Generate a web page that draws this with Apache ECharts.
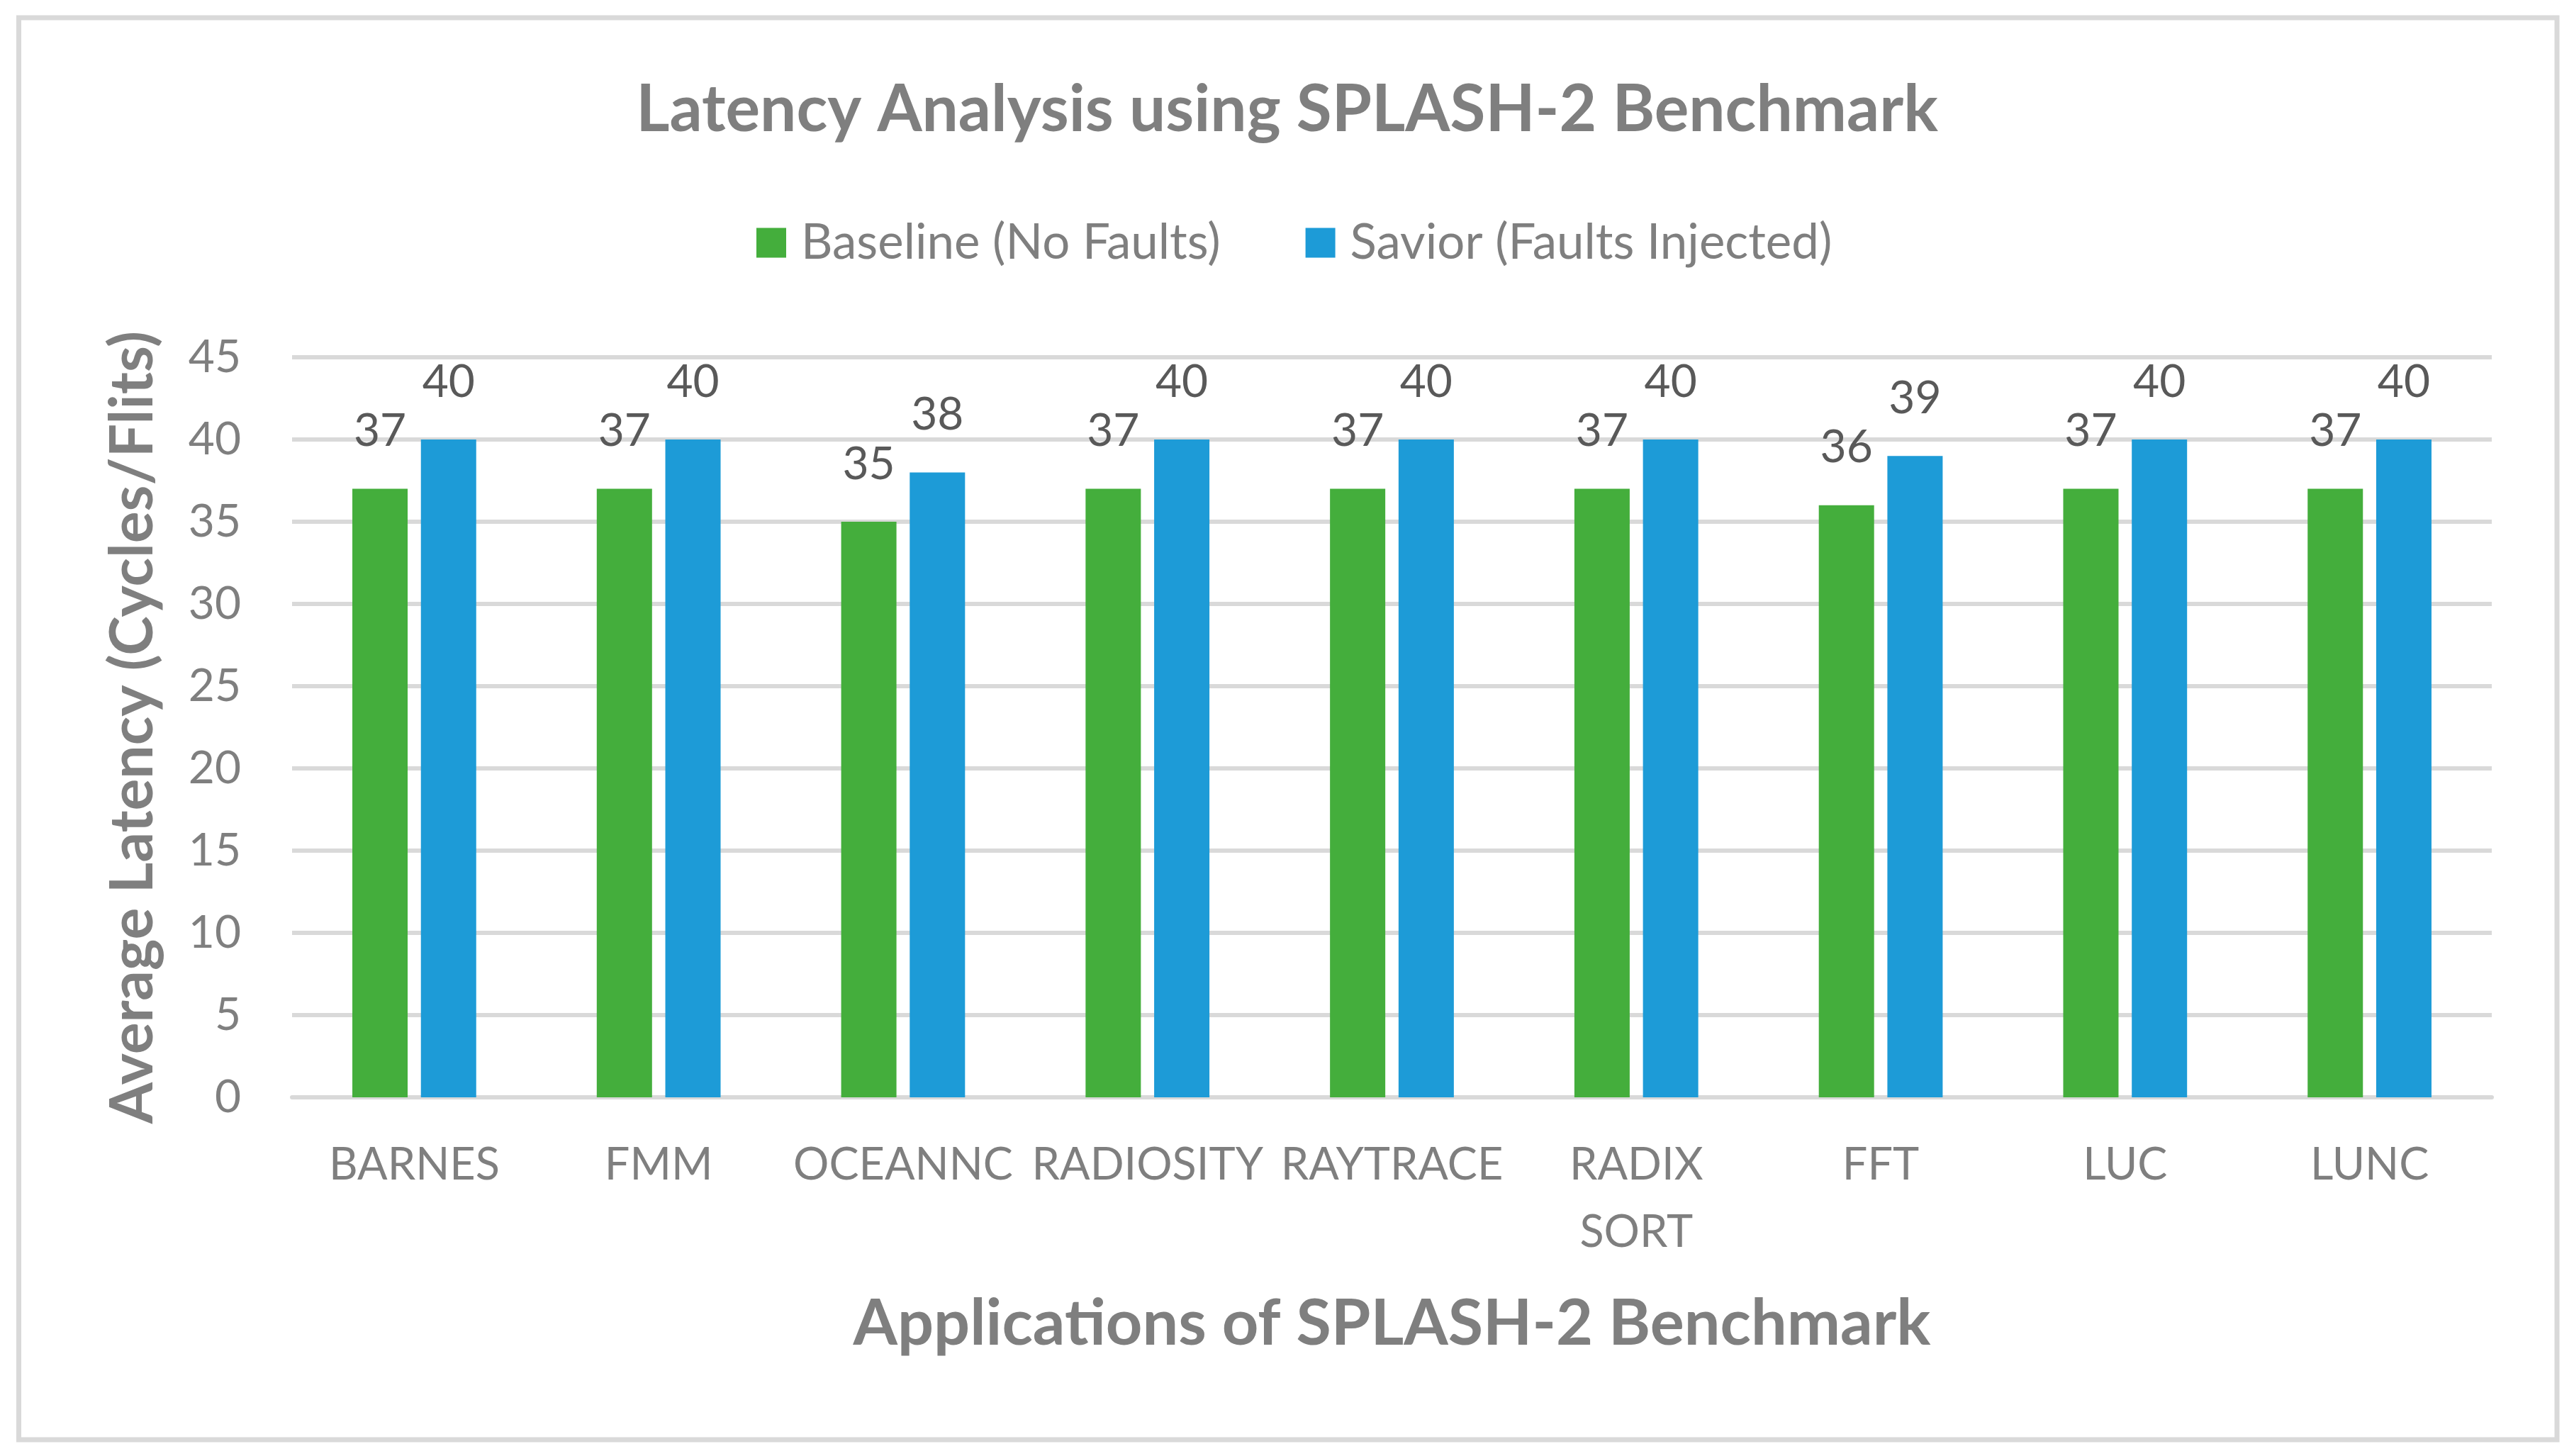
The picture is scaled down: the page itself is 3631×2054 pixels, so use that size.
<!DOCTYPE html>
<html>
<head>
<meta charset="utf-8">
<script src="https://cdn.jsdelivr.net/npm/echarts@6/dist/echarts.min.js"></script>
<style>
html,body{margin:0;padding:0;background:#fff;}
#chart{width:3631px;height:2054px;}
</style>
</head>
<body>
<div id="chart"></div>
<script>
const categories = ['BARNES','FMM','OCEANNC','RADIOSITY','RAYTRACE','RADIX\nSORT','FFT','LUC','LUNC'];
const baseline = [37,37,35,37,37,37,36,37,37];
const savior = [40,40,38,40,40,40,39,40,40];
const seriesNames = ['Baseline (No Faults)','Savior (Faults Injected)'];
const yTicks = {min:0, max:45, interval:5};

const FONT = 'Lato';
const GRAY = '#7f7f7f';

const chart = echarts.init(document.getElementById('chart'), null, {renderer:'canvas'});
chart.setOption({
  backgroundColor:'#ffffff',
  animation:false,
  graphic:[{
    type:'rect', silent:true, z:-10,
    shape:{x:26.5, y:25, width:3580.5, height:2006},
    style:{fill:'none', stroke:'#d9d9d9', lineWidth:7}
  }],
  title:{
    text:'Latency Analysis using SPLASH-2 Benchmark',
    left:'center', top:105,
    textStyle:{fontFamily:FONT, fontWeight:'bold', fontSize:91, lineHeight:91, color:GRAY}
  },
  legend:{
    left:1062, top:303,
    itemWidth:42, itemHeight:42, itemGap:120,
    icon:'rect',
    textStyle:{fontFamily:FONT, fontSize:69, lineHeight:68, color:GRAY, padding:[0,0,0,16]},
    data:seriesNames
  },
  grid:{left:412, right:116, top:504, bottom:506, containLabel:false},
  xAxis:{
    type:'category',
    data:categories,
    name:'Applications of SPLASH-2 Benchmark',
    nameLocation:'middle',
    nameGap:275,
    nameTextStyle:{fontFamily:FONT, fontWeight:'bold', fontSize:90, lineHeight:90, color:GRAY},
    axisLine:{show:true, lineStyle:{color:'#d9d9d9', width:6}},
    axisTick:{show:false},
    axisLabel:{fontFamily:FONT, fontSize:63, lineHeight:95, color:GRAY, margin:48, interval:0}
  },
  yAxis:{
    type:'value',
    min:yTicks.min, max:yTicks.max, interval:yTicks.interval,
    name:'Average Latency (Cycles/Flits)',
    nameLocation:'middle',
    nameRotate:90,
    nameGap:182,
    nameTextStyle:{fontFamily:FONT, fontWeight:'bold', fontSize:84, lineHeight:84, color:GRAY},
    axisLine:{show:false},
    axisTick:{show:false},
    splitLine:{show:true, lineStyle:{color:'#d9d9d9', width:6}},
    axisLabel:{fontFamily:FONT, fontSize:64, lineHeight:64, color:GRAY, margin:72}
  },
  series:[
    {
      name:seriesNames[0], type:'bar', data:baseline,
      barWidth:78, barGap:'24%',
      itemStyle:{color:'#44ae3c'},
      label:{show:true, position:'top', distance:49, fontFamily:FONT, fontSize:64, lineHeight:64, color:'#595959'}
    },
    {
      name:seriesNames[1], type:'bar', data:savior,
      barWidth:78, barGap:'24%',
      itemStyle:{color:'#1d9bd7'},
      label:{show:true, position:'top', distance:49, fontFamily:FONT, fontSize:64, lineHeight:64, color:'#595959'}
    }
  ]
});
</script>
</body>
</html>
